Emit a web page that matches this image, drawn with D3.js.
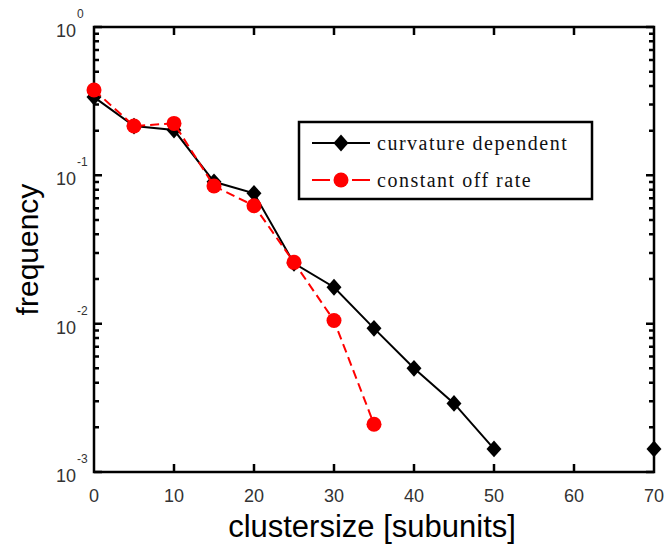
<!DOCTYPE html>
<html>
<head>
<meta charset="utf-8">
<script src="https://cdn.jsdelivr.net/npm/d3@7"></script>
<style>
  body { margin: 0; background: #fff; }
</style>
</head>
<body>
<svg id="chart" width="667" height="548" font-family="'Liberation Sans', Arial, sans-serif"></svg>
<script>
// cluster sizes (x) and frequencies for the two models
const sizes = [0, 5, 10, 15, 20, 25, 30, 35, 40, 45, 50, 55, 60, 65, 70];
const curvature = [0.337, 0.215, 0.202, 0.0905, 0.0756, 0.0255, 0.0176, 0.0093, 0.0050, 0.0029, 0.00143, null, null, null, 0.00143];
const constantOff = [0.376, 0.215, 0.224, 0.0847, 0.0624, 0.0259, 0.0105, 0.0021];
const xTicks = [0, 10, 20, 30, 40, 50, 60, 70];
const yDecades = [-3, -2, -1, 0];
const seriesNames = ["curvature dependent", "constant off rate"];

const width = 667, height = 548;
const margin = {left: 94, right: 13, top: 27, bottom: 76};

const svg = d3.select("#chart");

const x = d3.scaleLinear()
            .domain([0, 70])
            .range([margin.left, width - margin.right]);

const y = d3.scaleLog()
            .domain([1e-3, 1])
            .range([height - margin.bottom, margin.top]);

const minorTicks = [];
yDecades.slice(0, -1).forEach(e => {
    for (let k = 2; k <= 9; k++) minorTicks.push(k * Math.pow(10, e));
});
const majorTicks = yDecades.map(e => Math.pow(10, e));

const axisG = svg.append("g").attr("class", "axes");

const left = x(0), right = x(70), yTop = y(1), yBot = y(1e-3);

// inward ticks on all four sides, drawn as one path
const tp = d3.path();
xTicks.slice(1, -1).forEach(v => {
    tp.moveTo(x(v), yBot); tp.lineTo(x(v), yBot - 8);
    tp.moveTo(x(v), yTop); tp.lineTo(x(v), yTop + 8);
});
majorTicks.forEach(v => {
    tp.moveTo(left, y(v)); tp.lineTo(left + 8, y(v));
    tp.moveTo(right, y(v)); tp.lineTo(right - 8, y(v));
});
minorTicks.forEach(v => {
    tp.moveTo(left, y(v)); tp.lineTo(left + 5, y(v));
    tp.moveTo(right, y(v)); tp.lineTo(right - 5, y(v));
});

axisG.append("path")
     .attr("d", tp.toString())
     .attr("fill", "none")
     .attr("stroke", "#000")
     .attr("stroke-width", 2.5);

axisG.append("rect")
     .attr("x", left)
     .attr("y", yTop)
     .attr("width", right - left)
     .attr("height", yBot - yTop)
     .attr("fill", "none")
     .attr("stroke", "#000")
     .attr("stroke-width", 2.5);

// x tick labels
axisG.selectAll(".xlab")
     .data(xTicks)
     .enter()
     .append("text")
     .attr("x", d => x(d))
     .attr("y", 502)
     .attr("text-anchor", "middle")
     .attr("font-size", 18)
     .attr("fill", "#333")
     .text(d => d);

// y tick labels: 10 with superscript exponent
const yLab = axisG.selectAll(".ylab")
                  .data(yDecades)
                  .enter()
                  .append("g")
                  .attr("transform", d => `translate(0,${y(Math.pow(10, d))})`);
yLab.append("text")
    .attr("x", 76)
    .attr("y", 10)
    .attr("text-anchor", "end")
    .attr("font-size", 18)
    .attr("fill", "#333")
    .text("10");
yLab.append("text")
    .attr("x", 77)
    .attr("y", -9)
    .attr("font-size", 12)
    .attr("fill", "#333")
    .text(d => d);

svg.append("text")
   .attr("x", 372)
   .attr("y", 537)
   .attr("text-anchor", "middle")
   .attr("font-size", 31)
   .text("clustersize [subunits]");

svg.append("text")
   .attr("transform", `translate(38,${(yTop + yBot) / 2}) rotate(-90)`)
   .attr("text-anchor", "middle")
   .attr("font-size", 30)
   .text("frequency");

// series
const line = d3.line()
               .defined(d => d.v != null)
               .x(d => x(d.s))
               .y(d => y(d.v));

const curvPts = sizes.map((s, i) => ({s: s, v: curvature[i]}));
const constPts = constantOff.map((v, i) => ({s: sizes[i], v: v}));

const diamond = d3.symbol().type(d3.symbolSquare).size(112);

svg.append("path")
   .datum(curvPts)
   .attr("d", line)
   .attr("fill", "none")
   .attr("stroke", "#000")
   .attr("stroke-width", 2);

svg.selectAll(".dia")
   .data(curvPts.filter(d => d.v != null))
   .enter()
   .append("path")
   .attr("d", diamond)
   .attr("transform", d => `translate(${x(d.s)},${y(d.v)}) scale(1,1.12) rotate(45)`)
   .attr("fill", "#000");

svg.append("path")
   .datum(constPts)
   .attr("d", line)
   .attr("fill", "none")
   .attr("stroke", "#ff0000")
   .attr("stroke-width", 2)
   .attr("stroke-dasharray", "9,5");

svg.selectAll(".dot")
   .data(constPts)
   .enter()
   .append("circle")
   .attr("cx", d => x(d.s))
   .attr("cy", d => y(d.v))
   .attr("r", 7.5)
   .attr("fill", "#ff0000");

// legend
const lg = svg.append("g").attr("transform", "translate(299,122)");
lg.append("rect")
  .attr("width", 293)
  .attr("height", 77)
  .attr("fill", "#fff")
  .attr("stroke", "#000")
  .attr("stroke-width", 2.5);

lg.append("line")
  .attr("x1", 13).attr("x2", 71).attr("y1", 21).attr("y2", 21)
  .attr("stroke", "#000").attr("stroke-width", 2);
lg.append("path")
  .attr("d", diamond)
  .attr("transform", "translate(42,21) scale(1,1.12) rotate(45)");
lg.append("line")
  .attr("x1", 13).attr("x2", 71).attr("y1", 58).attr("y2", 58)
  .attr("stroke", "#ff0000").attr("stroke-width", 2)
  .attr("stroke-dasharray", "18,22");
lg.append("circle")
  .attr("cx", 42).attr("cy", 58).attr("r", 7.5)
  .attr("fill", "#ff0000");

lg.selectAll(".lt")
  .data(seriesNames)
  .enter()
  .append("text")
  .attr("x", 78)
  .attr("y", (d, i) => 28 + i * 37)
  .style("font-family", "'Liberation Serif', 'Times New Roman', serif")
  .attr("font-size", 20)
  .attr("letter-spacing", 1.5)
  .attr("fill", "#111")
  .text(d => d);
</script>
</body>
</html>
